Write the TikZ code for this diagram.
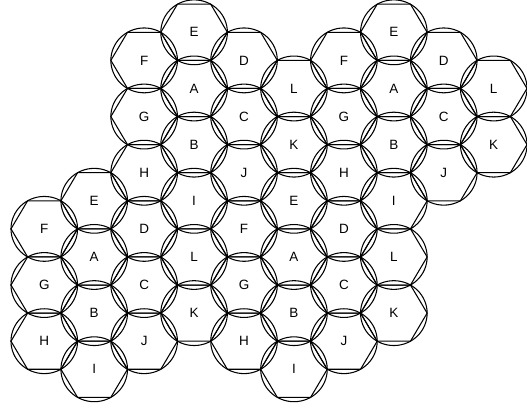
\documentclass[tikz,border=0pt]{standalone}
\usepackage{fontspec}
\setmainfont{Liberation Sans}
\usepackage{tikz}
\tikzset{
  celltag/.style={inner sep=0pt, font=\fontsize{11.5}{13}\selectfont},
  cellline/.style={draw=black, line width=0.9pt, line join=miter},
}

\begin{document}
\begin{tikzpicture}[x=1cm, y=0.974cm]
    \useasboundingbox (-1.33,0.996) rectangle (14.5,-11.58);
    % four clusters of twelve cells, placed by the column and half-row of cell A
    \foreach \cl/\cx/\cy in {tl/3/2, tr/7/2, bl/1/8, br/5/8}{
      \foreach \lab/\dx/\dy in {E/0/-2, F/-1/-1, D/1/-1, A/0/0, L/2/0, G/-1/1,
                                C/1/1, B/0/2, K/2/2, H/-1/3, J/1/3, I/0/4}{
        \node[celltag] (\cl\lab) at ({1.5*(\cx+\dx)}, {-0.866*(\cy+\dy)}) {\lab};
        \draw[cellline] (\cl\lab.center) circle[radius=1];
        \draw[cellline] (\cl\lab.center) ++(1,0) -- ++(-0.5,0.866) -- ++(-1,0)
          -- ++(-0.5,-0.866) -- ++(0.5,-0.866) -- ++(1,0) -- cycle;
      }
    }
  \end{tikzpicture}
\end{document}
